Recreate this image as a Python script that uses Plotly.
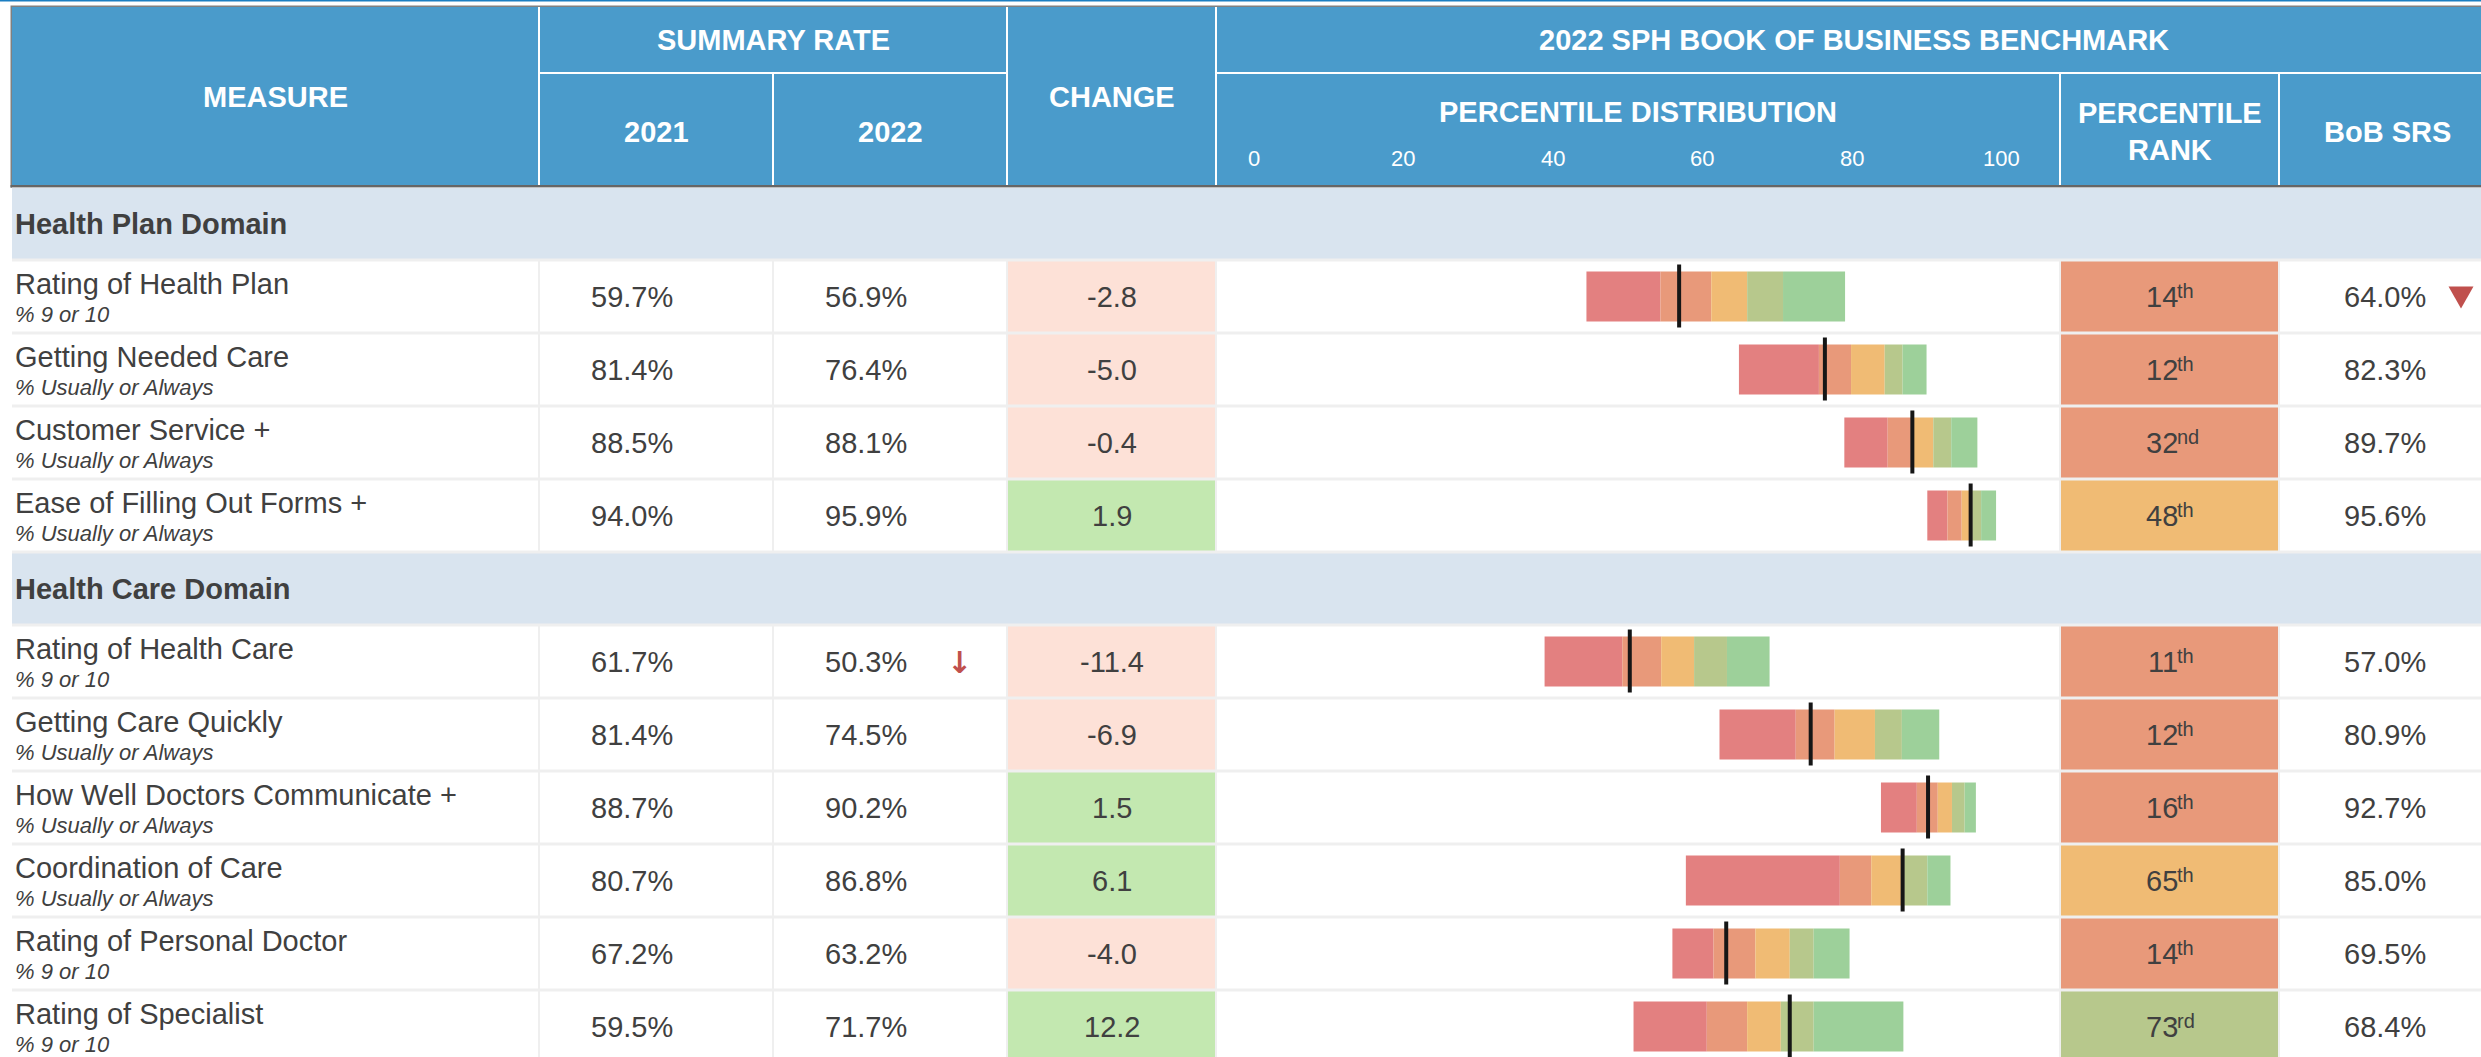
import plotly.graph_objects as go

# ---------------- data ----------------
domains = ["Health Plan Domain"] * 4 + ["Health Care Domain"] * 6
measures = ["Rating of Health Plan", "Getting Needed Care", "Customer Service +",
            "Ease of Filling Out Forms +", "Rating of Health Care", "Getting Care Quickly",
            "How Well Doctors Communicate +", "Coordination of Care",
            "Rating of Personal Doctor", "Rating of Specialist"]
subtitles = ["% 9 or 10", "% Usually or Always", "% Usually or Always", "% Usually or Always",
             "% 9 or 10", "% Usually or Always", "% Usually or Always", "% Usually or Always",
             "% 9 or 10", "% 9 or 10"]
rate_2021 = [59.7, 81.4, 88.5, 94.0, 61.7, 81.4, 88.7, 80.7, 67.2, 59.5]
rate_2022 = [56.9, 76.4, 88.1, 95.9, 50.3, 74.5, 90.2, 86.8, 63.2, 71.7]
change = [-2.8, -5.0, -0.4, 1.9, -11.4, -6.9, 1.5, 6.1, -4.0, 12.2]
sig_2022 = [0, 0, 0, 0, -1, 0, 0, 0, 0, 0]          # significant change flag (arrow)
pct_rank = [14, 12, 32, 48, 11, 12, 16, 65, 14, 73]
bob_srs = [64.0, 82.3, 89.7, 95.6, 57.0, 80.9, 92.7, 85.0, 69.5, 68.4]
bob_flag = [-1, 0, 0, 0, 0, 0, 0, 0, 0, 0]          # plan vs BoB flag (triangle)

# benchmark distribution segment edges (score scale)
dist_start = [44.5, 64.9, 79.0, 90.1, 38.9, 62.3, 83.9, 57.8, 56.0, 50.8]
dist_b1 = [54.4, 75.6, 84.8, 92.8, 49.3, 72.5, 88.7, 78.4, 61.5, 60.6]
dist_b2 = [61.2, 79.9, 88.3, 94.7, 54.5, 77.7, 91.5, 82.6, 67.1, 66.0]
dist_b3 = [66.0, 84.4, 90.9, 96.1, 58.9, 83.1, 93.4, 87.0, 71.7, 70.5]
dist_b4 = [70.8, 86.8, 93.3, 97.3, 63.3, 86.7, 95.1, 90.1, 74.9, 74.9]
dist_end = [79.1, 90.0, 96.8, 99.3, 69.0, 91.7, 96.6, 93.2, 79.7, 86.9]

dist_ticks = [0, 20, 40, 60, 80, 100]

# ---------------- styling / layout constants ----------------
W, H = 2481, 1057
FONT = "Liberation Sans, Arial, Helvetica, sans-serif"
TXT = "#404040"
HDR_BLUE = "#4A9BCB"
BAND = "#D9E4EF"
GRID = "#EFEFEF"
SEG_COLORS = ["#E38080", "#E8997A", "#F0BB74", "#B7C88C", "#9DD09A"]
NEG_FILL = "#FDE1D7"
POS_FILL = "#C3E8B0"
FLAG_RED = "#C0504D"

TL = 12                      # table left edge
HDR_TOP, HDR_MID, HDR_BOT = 7, 73, 186
BODY_TOP, ROW_H = 187, 73
COLS = [TL, 539, 773, 1007, 1216, 2060, 2279, W]
AX0_PX, PX_PER = 1253.8, 7.475   # percentile-distribution scale mapping

shapes = []
ann = []


def rect(x0, x1, y0, y1, color, layer="below"):
    shapes.append(dict(type="rect", xref="x", yref="y", x0=x0, x1=x1, y0=y0, y1=y1,
                       fillcolor=color, line=dict(width=0), layer=layer))


def text(x, y, s, size=29, color=TXT, bold=False, italic=False, xanchor="center",
         xref="x", family=FONT):
    ann.append(dict(x=x, y=y, xref=xref, yref="y", text=s, showarrow=False,
                    xanchor=xanchor, yanchor="middle",
                    font=dict(family=family, size=size, color=color,
                              weight="bold" if bold else "normal",
                              style="italic" if italic else "normal")))


def ordinal_suffix(n):
    if 10 <= n % 100 <= 20:
        return "th"
    return {1: "st", 2: "nd", 3: "rd"}.get(n % 10, "th")


def rank_color(r):
    if r < 10:
        return SEG_COLORS[0]
    if r < 40:
        return SEG_COLORS[1]
    if r < 70:
        return SEG_COLORS[2]
    if r < 90:
        return SEG_COLORS[3]
    return SEG_COLORS[4]


# ---------------- header ----------------
rect(0, W, 0, 1.5, "#1B7EC2")
rect(TL - 1.5, W, HDR_TOP - 1.5, HDR_BOT + 1.5, "#808080")
rect(TL, W, HDR_TOP, HDR_BOT - 1, HDR_BLUE)
rect(TL - 1.5, W, HDR_BOT - 1, HDR_BOT + 1.5, "#666666")
# white separators
for x, full in [(COLS[1], True), (COLS[2], False), (COLS[3], True), (COLS[4], True),
                (COLS[5], False), (COLS[6], False)]:
    rect(x - 1, x + 1, HDR_TOP if full else HDR_MID, HDR_BOT - 1, "white")
rect(COLS[1], COLS[3], HDR_MID - 1, HDR_MID + 1, "white")
rect(COLS[4], W, HDR_MID - 1, HDR_MID + 1, "white")

hy_top = (HDR_TOP + HDR_MID) / 2
hy_low = (HDR_MID + HDR_BOT) / 2
hy_full = (HDR_TOP + HDR_BOT) / 2
text((COLS[0] + COLS[1]) / 2, hy_full, "MEASURE", color="white", bold=True)
text((COLS[1] + COLS[3]) / 2, hy_top, "SUMMARY RATE", color="white", bold=True)
text((COLS[1] + COLS[2]) / 2, hy_low + 2, "2021", color="white", bold=True)
text((COLS[2] + COLS[3]) / 2, hy_low + 2, "2022", color="white", bold=True)
text((COLS[3] + COLS[4]) / 2, hy_full, "CHANGE", color="white", bold=True)
text((COLS[4] + W) / 2 + 5, hy_top, "2022 SPH BOOK OF BUSINESS BENCHMARK", color="white",
     bold=True)
text((COLS[4] + COLS[5]) / 2, 112, "PERCENTILE DISTRIBUTION", color="white", bold=True)
text((COLS[5] + COLS[6]) / 2, 113, "PERCENTILE", color="white", bold=True)
text((COLS[5] + COLS[6]) / 2, 150, "RANK", color="white", bold=True)
text(2387, hy_low + 2, "BoB SRS", color="white", bold=True)
for t in dist_ticks:
    text(t, 158, str(t), size=22, color="white", xref="x2")

# ---------------- body ----------------
rect(TL, W, HDR_BOT + 1.5, H, GRID)

slots = []
prev = None
for i, d in enumerate(domains):
    if d != prev:
        slots.append(("band", d))
        prev = d
    slots.append(("row", i))

RANK_JOIN = 2179
row_center = {}
for k, (kind, val) in enumerate(slots):
    top = BODY_TOP + k * ROW_H
    bot = top + ROW_H
    y0, y1 = top + 1.5, bot - 1.5
    cy = (top + bot) / 2
    if kind == "band":
        rect(TL, W, y0 if k else top + 1, y1, BAND)
        text(TL + 1, cy, val, bold=True, xanchor="left")
        continue
    i = val
    row_center[i] = cy
    fills = ["white", "white", "white",
             NEG_FILL if change[i] < 0 else POS_FILL,
             "white", rank_color(pct_rank[i]), "white"]
    for j in range(7):
        xa = COLS[j] + (1 if j > 0 else 0)
        xb = COLS[j + 1] - 1 if j < 6 else W
        rect(xa, xb, y0, y1, fills[j])
    text(TL + 1, top + 24, measures[i], xanchor="left")
    text(TL + 1, top + 54.5, subtitles[i], size=22, italic=True, xanchor="left")
    text(632, cy, f"{rate_2021[i]:.1f}%")
    text(866, cy, f"{rate_2022[i]:.1f}%")
    if sig_2022[i] < 0:
        text(959, cy + 1, "↓", size=30, color=FLAG_RED, bold=True, family="DejaVu Sans")
    text((COLS[3] + COLS[4]) / 2, cy, f"{change[i]:.1f}")
    text(RANK_JOIN + 1, cy, str(pct_rank[i]), xanchor="right")
    text(RANK_JOIN - 4, cy - 6, ordinal_suffix(pct_rank[i]), size=20, xanchor="left")
    text(2385, cy, f"{bob_srs[i]:.1f}%")
    if bob_flag[i] < 0:
        tx, ty = 2461, cy + 1
        shapes.append(dict(type="path", xref="x", yref="y",
                           path=f"M{tx - 12.5},{ty - 11} L{tx + 12.5},{ty - 11} L{tx},{ty + 11} Z",
                           fillcolor=FLAG_RED, line=dict(width=0), layer="above"))

n = len(measures)
ys = [row_center[i] for i in range(n)]
edges = [dist_start, dist_b1, dist_b2, dist_b3, dist_b4, dist_end]

fig = go.Figure()
for s in range(5):
    lo, hi = edges[s], edges[s + 1]
    fig.add_trace(go.Bar(
        x=[hi[i] - lo[i] for i in range(n)], base=lo, y=ys, orientation="h",
        width=50, marker=dict(color=SEG_COLORS[s], line=dict(width=0)),
        xaxis="x2", yaxis="y", hoverinfo="skip", showlegend=False))

mx, my = [], []
for i in range(n):
    mx += [rate_2022[i], rate_2022[i], None]
    my += [ys[i] - 32, ys[i] + 31, None]
fig.add_trace(go.Scatter(x=mx, y=my, mode="lines", line=dict(color="#161616", width=4),
                         xaxis="x2", yaxis="y", hoverinfo="skip", showlegend=False))

x2_range = [(COLS[4] - AX0_PX) / PX_PER, (COLS[5] - AX0_PX) / PX_PER]

fig.update_layout(
    width=W, height=H, margin=dict(l=0, r=0, t=0, b=0, pad=0),
    paper_bgcolor="white", plot_bgcolor="rgba(0,0,0,0)",
    barmode="overlay", showlegend=False,
    xaxis=dict(range=[0, W], domain=[0, 1], visible=False, fixedrange=True),
    yaxis=dict(range=[H, 0], domain=[0, 1], visible=False, fixedrange=True),
    xaxis2=dict(range=x2_range, domain=[COLS[4] / W, COLS[5] / W], anchor="y",
                visible=False, fixedrange=True),
    shapes=shapes, annotations=ann,
)

fig.write_html("out.html", config={"displayModeBar": False},
               post_script="document.body.style.margin='0';document.body.style.overflow='hidden';")
